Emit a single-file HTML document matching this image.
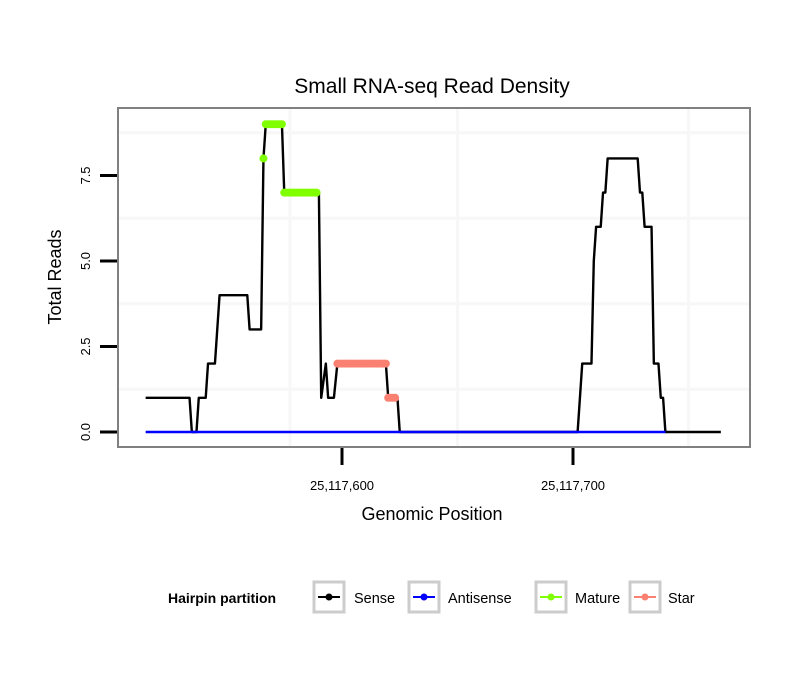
<!DOCTYPE html>
<html><head><meta charset="utf-8"><style>
body{margin:0;background:#fff;font-family:"Liberation Sans",sans-serif}
</style></head><body>
<svg width="810" height="690" xmlns="http://www.w3.org/2000/svg" font-family="Liberation Sans, sans-serif">
<rect width="810" height="690" fill="#fff"/>
<text x="432" y="93" font-size="21" text-anchor="middle">Small RNA-seq Read Density</text>
<g id="grid"></g>
<g id="series"></g>
<rect x="118" y="108" width="632" height="339" fill="none" stroke="#808080" stroke-width="2"/>
<g id="axes"></g>
<text x="432" y="520" font-size="18" text-anchor="middle">Genomic Position</text>
<text transform="translate(61,277) rotate(-90)" font-size="18" text-anchor="middle">Total Reads</text>
<g>
<text x="168" y="603" font-size="14" font-weight="bold">Hairpin partition</text>
<g><rect x="314" y="582" width="30" height="30" fill="none" stroke="#ccc" stroke-width="3"/><line x1="318" y1="597" x2="340" y2="597" stroke="#000" stroke-width="2"/><circle cx="329" cy="597" r="3.5" fill="#000"/><text x="354" y="603" font-size="14.5">Sense</text></g>
<g><rect x="409" y="582" width="30" height="30" fill="none" stroke="#ccc" stroke-width="3"/><line x1="413" y1="597" x2="435" y2="597" stroke="#00f" stroke-width="2"/><circle cx="424" cy="597" r="3.5" fill="#00f"/><text x="448" y="603" font-size="14.5">Antisense</text></g>
<g><rect x="536" y="582" width="30" height="30" fill="none" stroke="#ccc" stroke-width="3"/><line x1="540" y1="597" x2="562" y2="597" stroke="#7fff00" stroke-width="2"/><circle cx="551" cy="597" r="3.5" fill="#7fff00"/><text x="575" y="603" font-size="14.5">Mature</text></g>
<g><rect x="630" y="582" width="30" height="30" fill="none" stroke="#ccc" stroke-width="3"/><line x1="634" y1="597" x2="656" y2="597" stroke="#fa8072" stroke-width="2"/><circle cx="645" cy="597" r="3.5" fill="#fa8072"/><text x="668" y="603" font-size="14.5">Star</text></g>
</g>
</svg>
<script>
const sensePos=[515,534,535,537,538,541,542,545,547,559,560,565,566,567,574,575,590,591,593,594,596.5,598,619,620,624,625,702,704,708,709,710,712,713,714,715,728,729,730,731,734,735,737,738,739,740,764];
const senseVal=[1,1,0,0,1,1,2,2,4,4,3,3,8,9,9,7,7,1,2,1,1,2,2,1,1,0,0,2,2,5,6,6,7,7,8,8,7,7,6,6,2,2,1,1,0,0];
const antiPos=[515,740];
const antiVal=[0,0];
const maturePos=[566,567,568,569,570,571,572,573,574,575,576,577,578,579,580,581,582,583,584,585,586,587,588,589];
const matureVal=[8,9,9,9,9,9,9,9,9,7,7,7,7,7,7,7,7,7,7,7,7,7,7,7];
const starPos=[598,599,600,601,602,603,604,605,606,607,608,609,610,611,612,613,614,615,616,617,618,619,620,621,622,623];
const starVal=[2,2,2,2,2,2,2,2,2,2,2,2,2,2,2,2,2,2,2,2,2,2,1,1,1,1];
const yTicks=[0,2.5,5,7.5];
const yTickLabels=["0.0","2.5","5.0","7.5"];
const yMinor=[1.25,3.75,6.25,8.75];
const xTicks=[600,700];
const xTickLabels=["25,117,600","25,117,700"];
const xGrid=[577.5,650,750];

const X=p=>342+(p-600)*2.31;
const Y=v=>432-34.2*v;
const NS="http://www.w3.org/2000/svg";
function mk(tag,attrs,parent){const e=document.createElementNS(NS,tag);for(const k in attrs)e.setAttribute(k,attrs[k]);parent.appendChild(e);return e;}
const grid=document.getElementById('grid'),series=document.getElementById('series'),axes=document.getElementById('axes');
yMinor.forEach(v=>{const l=mk('line',{x1:119,x2:749,y1:Y(v),y2:Y(v),stroke:'#f7f7f7','stroke-width':3},grid);

});
xGrid.forEach(p=>{const l=mk('line',{x1:X(p),x2:X(p),y1:109,y2:446,stroke:'#f7f7f7','stroke-width':3},grid);

});
function line(pos,val,color,name){const pts=pos.map((p,i)=>X(p)+','+Y(val[i])).join(' ');
const l=mk('polyline',{points:pts,fill:'none',stroke:color,'stroke-width':2.4,'stroke-linejoin':'round'},series);

}
line(sensePos,senseVal,'#000','sense-line');
line(antiPos,antiVal,'#0000ff','antisense-line');
function dots(pos,val,color,name){pos.forEach((p,i)=>{const c=mk('circle',{cx:X(p),cy:Y(val[i]),r:4,fill:color},series);

});}
dots(maturePos,matureVal,'#7fff00','mature-point');
dots(starPos,starVal,'#fa8072','star-point');
yTicks.forEach((v,i)=>{const t=mk('line',{x1:100,x2:117,y1:Y(v),y2:Y(v),stroke:'#000','stroke-width':3},axes);


const tx=mk('text',{transform:`translate(${90},${Y(v)}) rotate(-90)`,'font-size':13,'text-anchor':'middle'},axes);tx.textContent=yTickLabels[i];

});
xTicks.forEach((p,i)=>{const t=mk('line',{x1:X(p),x2:X(p),y1:448,y2:465,stroke:'#000','stroke-width':3},axes);


const tx=mk('text',{x:X(p),y:490,'font-size':13,'text-anchor':'middle'},axes);tx.textContent=xTickLabels[i];

});
</script>
</body></html>
